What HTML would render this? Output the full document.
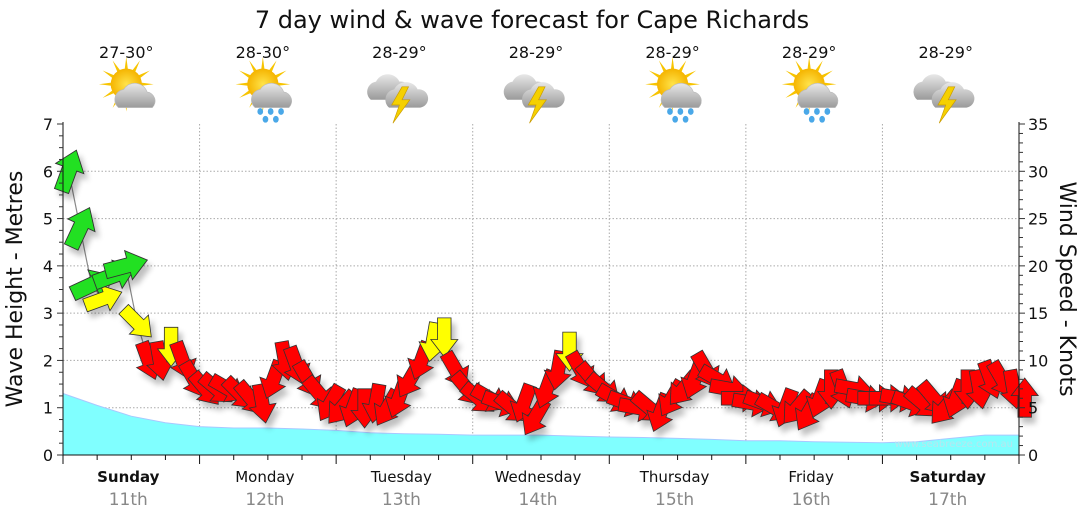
<!DOCTYPE html>
<html><head><meta charset="utf-8">
<style>
body{margin:0;background:#fff;}
svg{display:block;font-family:"DejaVu Sans","Liberation Sans",sans-serif;}
</style></head>
<body>
<svg id="c" width="1080" height="522" viewBox="0 0 1080 522">
<defs>
<filter id="sh" x="-50%" y="-50%" width="200%" height="200%"><feGaussianBlur in="SourceAlpha" stdDeviation="3"/><feOffset dx="4" dy="6"/><feComponentTransfer><feFuncA type="linear" slope="0.25"/></feComponentTransfer><feMerge><feMergeNode/><feMergeNode in="SourceGraphic"/></feMerge></filter>
<radialGradient id="sun" cx="50%" cy="50%" r="50%"><stop offset="0" stop-color="#ffe34a"/><stop offset="1" stop-color="#f5b400"/></radialGradient>
<linearGradient id="cloud" x1="0" y1="0" x2="0" y2="1"><stop offset="0" stop-color="#e8e8e8"/><stop offset="1" stop-color="#9a9a9a"/></linearGradient>
</defs>
<text x="532" y="28" text-anchor="middle" font-size="24" fill="#111">7 day wind &amp; wave forecast for Cape Richards</text>
<g id="grid"></g>
<path id="wave" fill="#80ffff" stroke="#a8c8ff" stroke-width="1"/>
<text x="1013" y="447" text-anchor="end" font-size="10" fill="#b8e6ee">www.seabreeze.com.au</text>
<polyline id="windline" fill="none" stroke="#888" stroke-width="1.2"/>
<g id="arrows" filter="url(#sh)"></g>
<g id="axes"></g>
<g id="days"></g>
<text transform="translate(22,289) rotate(-90)" text-anchor="middle" font-size="22" fill="#111">Wave Height - Metres</text>
<text transform="translate(1060,289) rotate(90)" text-anchor="middle" font-size="22" fill="#111">Wind Speed - Knots</text>
</svg>
<script>
const dayNames=["Sunday","Monday","Tuesday","Wednesday","Thursday","Friday","Saturday"];
const dayDates=["11th","12th","13th","14th","15th","16th","17th"];
const temps=["27-30°","28-30°","28-29°","28-29°","28-29°","28-29°","28-29°"];
const icons=["sun-cloud","sun-rain","storm","storm","sun-rain","sun-rain","storm"];
const leftTicks=[0,1,2,3,4,5,6,7];
const rightTicks=[0,5,10,15,20,25,30,35];
// wind every 2 hours (knots) and direction arrow points (deg clockwise from up)
const windSpeed=[30,24,18,16.5,19,20,14,10,10,11.5,10,8,
 7,7,7,6.5,6,5.5,8,10,9.5,8,6.5,5.5,
 5,5,5,5.5,5,6,8,10,12,12.5,9,7,
 6,6,5.5,5,5.5,4,7,9,11,9,8,7,
 6,5.5,5,5,4.5,6,7,8,9,8,7,6,
 5.5,5.5,5,5,5,4.5,6,7,7,7,6,6,
 6,6,5.5,5.5,6,5,6,7,7,8,8,7,6];
const windDir=[20,25,65,70,70,75,135,160,170,180,160,150,
 140,130,120,135,140,170,200,170,160,150,140,210,
 220,200,180,190,210,200,210,200,190,180,150,140,
 130,120,110,130,200,210,200,190,180,150,140,130,
 120,110,100,130,200,210,220,200,150,120,100,90,
 100,110,120,200,220,210,200,180,160,100,100,90,
 90,100,110,130,140,220,200,180,170,160,150,170,0];
// wave height every 6 hours (m)
const waveHeight=[1.3,1.05,0.82,0.68,0.6,0.57,0.57,0.55,0.52,0.47,0.45,0.44,0.42,0.42,0.42,0.4,0.38,0.37,0.35,0.33,0.3,0.3,0.28,0.27,0.26,0.28,0.35,0.42,0.42];

const X0=63,X1=1019,Y0=455,Y1=124;
const hours=168;
const xs=h=>X0+(X1-X0)*h/hours;
const yL=v=>Y0-(Y0-Y1)*v/7;
const yR=v=>Y0-(Y0-Y1)*v/35;
const NS="http://www.w3.org/2000/svg";
function mk(t,a,p){const e=document.createElementNS(NS,t);for(const k in a)e.setAttribute(k,a[k]);(p||document.getElementById('c')).appendChild(e);return e;}

const grid=document.getElementById('grid');
for(let d=1;d<7;d++){const l=mk('line',{x1:xs(d*24),x2:xs(d*24),y1:Y1,y2:Y0,stroke:'#aaa','stroke-dasharray':'1.5,2'},grid);

}
leftTicks.forEach(v=>{if(v>0&&v<7){const l=mk('line',{x1:X0,x2:X1,y1:yL(v),y2:yL(v),stroke:'#aaa','stroke-dasharray':'1.5,2'},grid);

}});

let d='M'+X0+','+Y0;
waveHeight.forEach((v,i)=>{d+=' L'+xs(i*6).toFixed(1)+','+yL(v).toFixed(1);});
d+=' L'+X1+','+Y0+' Z';
document.getElementById('wave').setAttribute('d',d);

const pts=windSpeed.map((v,i)=>[xs(i*2+1),yR(v)]);
document.getElementById('windline').setAttribute('points',pts.map(p=>p[0].toFixed(1)+','+p[1].toFixed(1)).join(' '));
const ag=document.getElementById('arrows');
windSpeed.forEach((v,i)=>{
 const col=v>=16.8?'#22e022':(v>=11?'#ffff00':'#ff0000');
 const s=v>=16.8?1.5:1.35;
 const g=mk('polygon',{points:'-5,14 5,14 5,-2 10,-2 0,-15 -10,-2 -5,-2',fill:col,stroke:'#333','stroke-width':0.6,
  transform:`translate(${pts[i][0].toFixed(1)},${pts[i][1].toFixed(1)}) rotate(${windDir[i]}) scale(${s})`},ag);
 
 
});

const ax=document.getElementById('axes');
mk('line',{x1:X0,x2:X0,y1:Y1-2,y2:Y0,stroke:'#111'},ax);
mk('line',{x1:X1,x2:X1,y1:Y1-2,y2:Y0,stroke:'#111'},ax);
mk('line',{x1:X0,x2:X1,y1:Y0,y2:Y0,stroke:'#111'},ax);
for(let q=0;q<=28;q++){const v=q/4;mk('line',{x1:X0-(q%4?4:6),x2:X0,y1:yL(v),y2:yL(v),stroke:'#333'},ax);}
for(let k=0;k<=35;k++){mk('line',{x1:X1,x2:X1+(k%5?4:6),y1:yR(k),y2:yR(k),stroke:'#333'},ax);}
leftTicks.forEach(v=>{const t=mk('text',{x:X0-10,y:yL(v)+6,'text-anchor':'end','font-size':16,fill:'#111'},ax);t.textContent=v;

});
rightTicks.forEach(v=>{const t=mk('text',{x:X1+9,y:yR(v)+6,'font-size':16,fill:'#111'},ax);t.textContent=v;

});
for(let h=0;h<=hours;h+=6){mk('line',{x1:xs(h),x2:xs(h),y1:Y0,y2:Y0+(h%24?5:9),stroke:'#111'},ax);}

const dg=document.getElementById('days');
function icon(type,cx,cy,p){
 const g=mk('g',{transform:`translate(${cx},${cy}) scale(1.3)`},p);
 cx=0;cy=0;
 if(type!=='storm'){
  for(let a=0;a<360;a+=30){const r=a*Math.PI/180;mk('polygon',{points:`${cx+Math.cos(r-0.12)*11},${cy-6+Math.sin(r-0.12)*11} ${cx+Math.cos(r)*21},${cy-6+Math.sin(r)*21} ${cx+Math.cos(r+0.12)*11},${cy-6+Math.sin(r+0.12)*11}`,fill:'#f7c400'},g);}
  mk('circle',{cx:cx,cy:cy-6,r:12,fill:'url(#sun)'},g);
  mk('path',{d:`M${cx-6},${cy+12} a8,8 0 0 1 4,-14 a10,10 0 0 1 18,2 a7,7 0 0 1 4,12 z`,fill:'url(#cloud)',stroke:'#bbb','stroke-width':0.5},g);
  if(type==='sun-rain'){[[-2,15],[6,15],[14,15],[2,21],[10,21]].forEach(o=>mk('ellipse',{cx:cx+o[0],cy:cy+o[1],rx:2.2,ry:2.6,fill:'#4aa8e8'},g));}
 } else {
  mk('path',{d:`M${cx-22},${cy+6} a8,8 0 0 1 4,-14 a10,10 0 0 1 18,0 a7,7 0 0 1 2,14 z`,fill:'url(#cloud)'},g);
  mk('path',{d:`M${cx-8},${cy+12} a8,8 0 0 1 4,-14 a10,10 0 0 1 18,0 a7,7 0 0 1 2,14 z`,fill:'url(#cloud)'},g);
  mk('polygon',{points:`${cx+2},${cy-4} ${cx-6},${cy+10} ${cx},${cy+10} ${cx-5},${cy+24} ${cx+8},${cy+6} ${cx+2},${cy+6} ${cx+7},${cy-4}`,fill:'#f5d000',stroke:'#c99a00','stroke-width':0.5},g);
 }
 return g;
}
for(let i=0;i<7;i++){
 const cx=xs(i*24+12)-5;
 const t=mk('text',{x:cx,y:58,'text-anchor':'middle','font-size':16,fill:'#111'},dg);t.textContent=temps[i];
 
 
 const ic=icon(icons[i],cx,92,dg);
 
 
 const n=mk('text',{x:cx+2,y:482,'text-anchor':'middle','font-size':15,fill:'#111','font-weight':(i===0||i===6)?'bold':'normal'},dg);n.textContent=dayNames[i];
 
 
 const dt=mk('text',{x:cx+2,y:505,'text-anchor':'middle','font-size':17,fill:'#888'},dg);dt.textContent=dayDates[i];
 
 
}
</script>
</body></html>
